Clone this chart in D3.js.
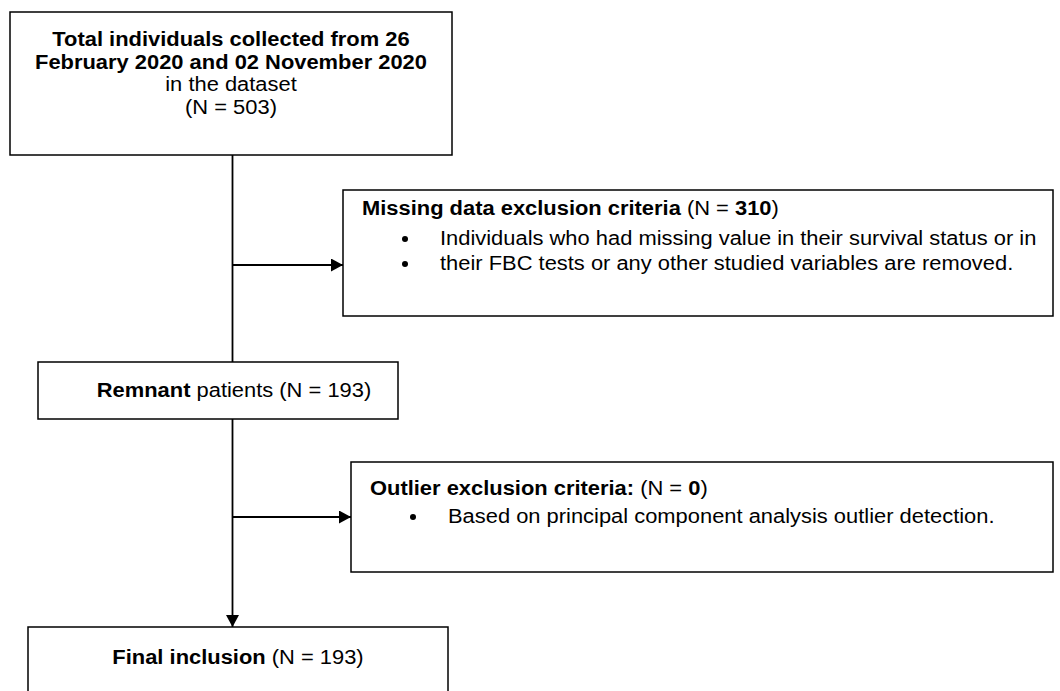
<!DOCTYPE html>
<html>
<head>
<meta charset="utf-8">
<script src="https://cdn.jsdelivr.net/npm/d3@7"></script>
<style>
    body { margin: 0; background: #fff; }
    svg { display: block; }
    text { font-family: "Liberation Sans", Arial, sans-serif; fill: #000; }
</style>
</head>
<body>
<div id="chart"></div>
<script>
// counts at each step
const totalN = 503;
const missingN = 310;
const outlierN = 0;
const remnantN = 193;
const finalN = 193;

// main flow text
const topLines = [
    [{ t: 'Total individuals collected from 26', b: true }],
    [{ t: 'February 2020 and 02 November 2020', b: true }],
    [{ t: 'in the dataset', b: false }],
    [{ t: `(N = ${totalN})`, b: false }]
];
const remnantLine = [{ t: 'Remnant', b: true }, { t: ` patients (N = ${remnantN})`, b: false }];
const finalLine = [{ t: 'Final inclusion', b: true }, { t: ` (N = ${finalN})`, b: false }];

// exclusion boxes
const missingTitle = [{ t: 'Missing data exclusion criteria', b: true }, { t: ' (N = ', b: false }, { t: String(missingN), b: true }, { t: ')', b: false }];
const missingBullets = [
    'Individuals who had missing value in their survival status or in',
    'their FBC tests or any other studied variables are removed.'
];
const outlierTitle = [{ t: 'Outlier exclusion criteria:', b: true }, { t: ' (N = ', b: false }, { t: String(outlierN), b: true }, { t: ')', b: false }];
const outlierBullets = [
    'Based on principal component analysis outlier detection.'
];

window.addEventListener('DOMContentLoaded', () => {
    const width = 1060;
    const height = 691;
    const spineX = 232.5;
    const fontSize = 20;
    const stretch = 1.095; // the figure is a bit wider than the type

    const svg = d3.select('#chart')
        .append('svg')
        .attr('width', width)
        .attr('height', height);

    svg.append('defs').append('marker')
        .attr('id', 'arrow')
        .attr('viewBox', '0 0 12 13')
        .attr('refX', 12)
        .attr('refY', 6.5)
        .attr('markerWidth', 12)
        .attr('markerHeight', 13)
        .attr('markerUnits', 'userSpaceOnUse')
        .attr('orient', 'auto')
        .append('path')
        .attr('d', 'M0,0L12,6.5L0,13z')
        .attr('fill', '#000');

    // layout of the boxes
    const boxes = {
        top: { x: 10, y: 12, w: 442, h: 143 },
        missing: { x: 343, y: 190, w: 710, h: 126 },
        remnant: { x: 38, y: 362, w: 360, h: 57 },
        outlier: { x: 351, y: 462, w: 702, h: 110 },
        final: { x: 28, y: 627, w: 420, h: 80 }
    };

    // connectors first so boxes cover the spine
    const lines = svg.append('g')
        .attr('stroke', '#000')
        .attr('stroke-width', 1.8)
        .attr('fill', 'none');

    lines.append('line')
        .attr('x1', spineX).attr('y1', boxes.top.y + boxes.top.h)
        .attr('x2', spineX).attr('y2', boxes.final.y)
        .attr('marker-end', 'url(#arrow)');

    [[boxes.missing, 265], [boxes.outlier, 517]].forEach(([b, y]) => {
        lines.append('line')
            .attr('x1', spineX).attr('y1', y)
            .attr('x2', b.x).attr('y2', y)
            .attr('marker-end', 'url(#arrow)');
    });

    svg.append('g')
        .selectAll('rect')
        .data(Object.values(boxes))
        .join('rect')
        .attr('x', d => d.x)
        .attr('y', d => d.y)
        .attr('width', d => d.w)
        .attr('height', d => d.h)
        .attr('fill', '#fff')
        .attr('stroke', '#000')
        .attr('stroke-width', 1.5);

    function addLine(parts, x, y, anchor) {
        const t = svg.append('text')
            .attr('transform', `translate(${x},${y}) scale(${stretch},1)`)
            .attr('text-anchor', anchor)
            .attr('font-size', fontSize);
        parts.forEach(p => {
            t.append('tspan')
                .attr('font-weight', p.b ? 'bold' : 'normal')
                .text(p.t);
        });
        return t;
    }

    // top box
    const topCx = boxes.top.x + boxes.top.w / 2;
    topLines.forEach((ln, i) => {
        addLine(ln, topCx, 46 + i * 22.5, 'middle');
    });

    addLine(remnantLine, boxes.remnant.x + boxes.remnant.w / 2 + 16, 397, 'middle');
    addLine(finalLine, boxes.final.x + boxes.final.w / 2, 664, 'middle');

    // exclusion boxes
    function exclusion(b, title, bullets, titleY, bulletY) {
        addLine(title, b.x + 19, titleY, 'start');
        bullets.forEach((s, i) => {
            const y = bulletY + i * 25;
            svg.append('circle')
                .attr('cx', b.x + 62)
                .attr('cy', y - 6)
                .attr('r', 3)
                .attr('fill', '#000');
            addLine([{ t: s, b: false }], b.x + 97, y, 'start');
        });
    }

    exclusion(boxes.missing, missingTitle, missingBullets, 215, 245);
    exclusion(boxes.outlier, outlierTitle, outlierBullets, 495, 523);
});
</script>
</body>
</html>
